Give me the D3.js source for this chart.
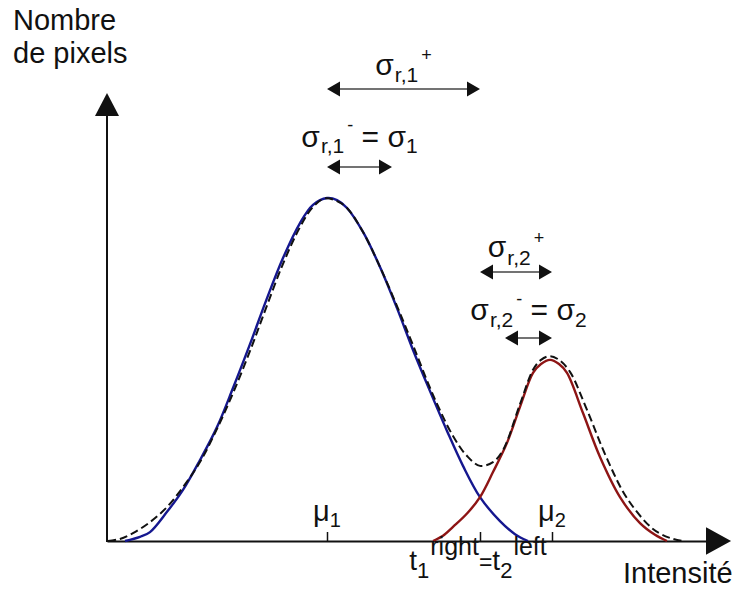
<!DOCTYPE html>
<html>
<head>
<meta charset="utf-8">
<script src="https://cdn.jsdelivr.net/npm/d3@7"></script>
<style>
    body { margin: 0; background: #fff; }
    text { font-family: "Liberation Sans", Arial, sans-serif; fill: #111; }
</style>
</head>
<body>
<svg id="chart" width="735" height="590"></svg>
<script>
// Values (intensity on x, number of pixels on y, peak 1 = 100)
const blueX = [9, 16.5, 21.5, 30, 38, 46.5, 55, 63, 71.5, 79.5, 88, 96.5, 103, 110,
    115, 120, 128, 136.5, 145, 153, 161.5, 170, 178, 186.5, 196.5, 204, 210.5];
const blueY = [0, 1.2, 2.6, 8.5, 14.9, 23.6, 33.2, 44.6, 57.4, 70.0, 82.5, 92.7, 98.0, 100,
    99.4, 97.1, 90.1, 79.9, 67.9, 55.7, 43.7, 32.1, 21.9, 12.8, 5.8, 2.0, 0];

const redX = [163, 168, 173, 180, 186.5, 193, 200, 206.5, 213, 217, 221.5, 226, 230, 238, 246.5, 256.5, 266.5, 274, 280];
const redY = [0, 1.5, 4.1, 8.0, 12.8, 20.1, 28.6, 39.1, 49.0, 51.6, 52.8, 51.6, 49.0, 37.3, 24.5, 12.8, 5.2, 1.8, 0];

const histX = [0.5, 6.5, 13, 21.5, 30, 38, 46.5, 55, 63, 71.5, 79.5, 88, 96.5, 103, 109,
    115, 120, 128, 136.5, 145, 153, 163, 173, 180, 186.5, 193, 198, 206.5, 213, 217, 221.5,
    226, 231.5, 240, 250, 260, 273, 281.5, 288];
const histY = [0, 0.6, 2.3, 5.5, 9.9, 15.7, 23.0, 32.7, 43.1, 55.4, 67.9, 80.8, 91.5, 97.4, 99.9,
    99.1, 97.1, 90.1, 79.9, 68.5, 57.1, 42.6, 30.6, 24.8, 21.9, 23.0, 26.5, 39.9, 49.9, 52.8, 53.9,
    52.8, 49.3, 38.2, 24.0, 12.5, 3.5, 0.9, 0];

const mu1 = 110, mu2 = 222.5, t12 = 186.5;
const sigma1 = 32.5, sigma2 = 23.5;
const tickVals = [mu1, t12, mu2];

const svg = d3.select('#chart');
const x = d3.scaleLinear().domain([0, 300]).range([107, 707]);
const y = d3.scaleLinear().domain([0, 100]).range([541, 198]);

const pts = (xs, ys) => xs.map((v, i) => [v, ys[i]]);
const line = d3.line()
    .x(d => x(d[0]))
    .y(d => y(d[1]))
    .curve(d3.curveCatmullRom.alpha(0.5));

// x axis with ticks pointing up, plus arrow
svg.append('g')
    .attr('transform', `translate(0,${y(0)})`)
    .call(d3.axisBottom(x).tickValues(tickVals).tickSizeInner(-9).tickSizeOuter(0).tickFormat(''))
    .call(g => g.select('.domain').attr('stroke-width', 2).attr('stroke', '#111'))
    .call(g => g.selectAll('.tick line').attr('stroke-width', 1.5).attr('stroke', '#111'));
svg.append('path')
    .attr('d', `M${x(300)},${y(0)}H712M707,${y(0) - 12}L729,${y(0)}L707,${y(0) + 12}Z`)
    .attr('stroke', '#111').attr('stroke-width', 2).attr('fill', '#111');

// y axis with arrow
svg.append('line')
    .attr('x1', x(0)).attr('x2', x(0))
    .attr('y1', y(0) + 1).attr('y2', 112)
    .attr('stroke', '#111').attr('stroke-width', 2);
svg.append('path')
    .attr('d', `M${x(0) - 12},116L${x(0)},93L${x(0) + 12},116Z`)
    .attr('fill', '#111');

// curves
svg.append('path').attr('d', line(pts(blueX, blueY)))
    .attr('fill', 'none').attr('stroke', '#15178f').attr('stroke-width', 2.4);
svg.append('path').attr('d', line(pts(redX, redY)))
    .attr('fill', 'none').attr('stroke', '#8e1515').attr('stroke-width', 2.4);
svg.append('path').attr('d', line(pts(histX, histY)))
    .attr('fill', 'none').attr('stroke', '#111').attr('stroke-width', 2)
    .attr('stroke-dasharray', '8,4');

// double-headed arrows for the sigmas
const spans = [
    {a: mu1, b: t12, py: 89},
    {a: mu1, b: mu1 + sigma1, py: 167},
    {a: t12, b: mu2, py: 272},
    {a: mu2 - sigma2, b: mu2, py: 338}
];
const arrows = svg.selectAll('.span')
    .data(spans)
    .enter()
    .append('g')
    .attr('class', 'span');
arrows.append('line')
    .attr('x1', d => x(d.a) + 10).attr('x2', d => x(d.b) - 10)
    .attr('y1', d => d.py).attr('y2', d => d.py)
    .attr('stroke', '#444').attr('stroke-width', 1.5);
arrows.append('path')
    .attr('d', d => {
        let l = x(d.a), r = x(d.b), h = d.py;
        return `M${l},${h}L${l + 13},${h - 7.5}L${l + 13},${h + 7.5}Z`
            + `M${r},${h}L${r - 13},${h - 7.5}L${r - 13},${h + 7.5}Z`;
    })
    .attr('fill', '#111');

// rich text labels: parts = [text, size, dy, dx]
function label(px, py, anchor, parts) {
    let t = svg.append('text')
        .attr('x', px).attr('y', py)
        .attr('text-anchor', anchor);
    parts.forEach(p => {
        t.append('tspan')
            .attr('font-size', p[1] + 'px')
            .attr('dy', p[2] || 0)
            .attr('dx', p[3] || 0)
            .text(p[0]);
    });
}

label(13, 30, 'start', [['Nombre', 29]]);
label(13, 63, 'start', [['de pixels', 29]]);
label(623, 583, 'start', [['Intensité', 29]]);

label(x(mu1), 521, 'middle', [['μ', 29], ['1', 20, 6]]);
label(x(mu2), 521, 'middle', [['μ', 29], ['2', 20, 6]]);

label(x(t12) - 2, 570, 'middle', [
    ['t', 28], ['1', 22, 8], ['right', 25, -23, 1], ['=', 23, 15],
    ['t', 28], ['2', 22, 8], ['left', 25, -23, 1]
]);

label((x(mu1) + x(t12)) / 2, 75, 'middle', [['σ', 30], ['r,1', 21, 7, 1], ['+', 18, -21, 3]]);
label((x(mu1) + x(mu1 + sigma1)) / 2, 147, 'middle', [
    ['σ', 30], ['r,1', 21, 6, 1], ['-', 18, -22, 3], [' = σ', 30, 16], ['1', 21, 6]
]);
label((x(t12) + x(mu2)) / 2, 257, 'middle', [['σ', 30], ['r,2', 21, 8, 1], ['+', 18, -21, 3]]);
label((x(mu2 - sigma2) + x(mu2)) / 2, 320, 'middle', [
    ['σ', 30], ['r,2', 21, 7, 1], ['-', 18, -22, 3], [' = σ', 30, 15], ['2', 21, 7]
]);
</script>
</body>
</html>
